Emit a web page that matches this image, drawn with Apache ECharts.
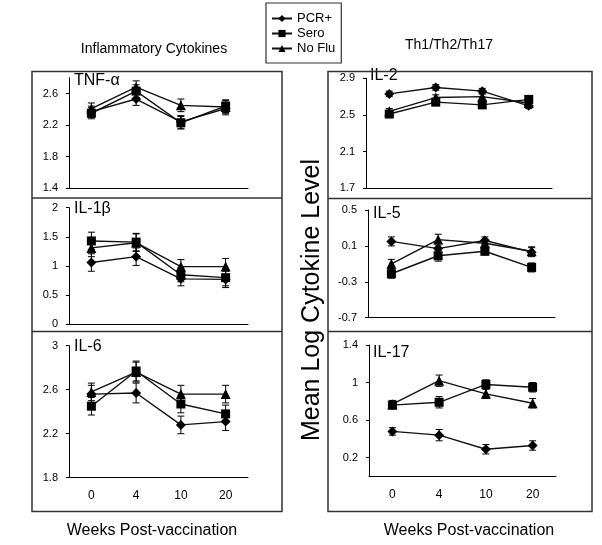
<!DOCTYPE html>
<html>
<head>
<meta charset="utf-8">
<script src="https://cdn.jsdelivr.net/npm/echarts@6/dist/echarts.min.js"></script>
<style>
    html, body { margin: 0; padding: 0; background: #fff; }
    #chart { width: 602px; height: 545px; }
</style>
</head>
<body>
<div id="chart"></div>
<script>
    // x categories (weeks post-vaccination)
    var weeks = ['0', '4', '10', '20'];
    var groups = ['PCR+', 'Sero', 'No Flu'];

    // TNF-a
    var tnfPcr = [2.37, 2.53, 2.24, 2.41];
    var tnfSero = [2.35, 2.63, 2.23, 2.44];
    var tnfNoFlu = [2.41, 2.68, 2.45, 2.43];
    var tnfErr = [0.07, 0.08, 0.08, 0.08];

    // IL-1b
    var il1Pcr = [1.06, 1.16, 0.78, 0.77];
    var il1Sero = [1.43, 1.41, 0.85, 0.80];
    var il1NoFlu = [1.31, 1.40, 0.99, 0.99];
    var il1Err = [0.15, 0.15, 0.12, 0.14];

    // IL-6
    var il6Pcr = [2.56, 2.57, 2.28, 2.31];
    var il6Sero = [2.45, 2.77, 2.47, 2.38];
    var il6NoFlu = [2.58, 2.76, 2.56, 2.56];
    var il6Err = [0.08, 0.09, 0.08, 0.08];

    // IL-2
    var il2Pcr = [2.73, 2.80, 2.76, 2.60];
    var il2Sero = [2.51, 2.64, 2.61, 2.67];
    var il2NoFlu = [2.54, 2.69, 2.70, 2.63];
    var il2Err = [0.03, 0.03, 0.03, 0.03];

    // IL-5
    var il5Pcr = [0.15, 0.07, 0.16, 0.03];
    var il5Sero = [-0.21, -0.01, 0.04, -0.14];
    var il5NoFlu = [-0.10, 0.17, 0.13, 0.04];
    var il5Err = [0.05, 0.06, 0.04, 0.05];

    // IL-17
    var il17Pcr = [0.48, 0.44, 0.29, 0.33];
    var il17Sero = [0.76, 0.79, 0.98, 0.95];
    var il17NoFlu = [0.77, 1.02, 0.88, 0.78];
    var il17Err = [0.04, 0.06, 0.05, 0.05];

    // y tick labels per panel
    var tnfTicks = [1.4, 1.8, 2.2, 2.6];
    var il1Ticks = [0, 0.5, 1, 1.5, 2];
    var il6Ticks = [1.8, 2.2, 2.6, 3];
    var il2Ticks = [1.7, 2.1, 2.5, 2.9];
    var il5Ticks = [-0.7, -0.3, 0.1, 0.5];
    var il17Ticks = [0.2, 0.6, 1, 1.4];

    var font = 'Liberation Sans, Arial, sans-serif';
    var symbols = ['diamond', 'rect', 'triangle'];
    var symbolSizes = [10, 9, 10];

    var panels = [
        {label: 'TNF-\u03b1', data: [tnfPcr, tnfSero, tnfNoFlu], err: tnfErr, ticks: tnfTicks, min: 1.4, max: 2.8,
            grid: {left: 69, top: 77.7, width: 179, height: 110.6}, lx: 74, ly: 82, bottom: false},
        {label: 'IL-1\u03b2', data: [il1Pcr, il1Sero, il1NoFlu], err: il1Err, ticks: il1Ticks, min: 0, max: 2,
            grid: {left: 69, top: 207.7, width: 179, height: 116.6}, lx: 74, ly: 210, bottom: false},
        {label: 'IL-6', data: [il6Pcr, il6Sero, il6NoFlu], err: il6Err, ticks: il6Ticks, min: 1.8, max: 3,
            grid: {left: 69, top: 345.7, width: 179, height: 132}, lx: 74, ly: 348, bottom: true},
        {label: 'IL-2', data: [il2Pcr, il2Sero, il2NoFlu], err: il2Err, ticks: il2Ticks, min: 1.7, max: 2.9,
            grid: {left: 366, top: 78.3, width: 186, height: 110}, lx: 370, ly: 77, bottom: false},
        {label: 'IL-5', data: [il5Pcr, il5Sero, il5NoFlu], err: il5Err, ticks: il5Ticks, min: -0.7, max: 0.5,
            grid: {left: 368, top: 210, width: 187, height: 107.7}, lx: 373, ly: 215, bottom: false},
        {label: 'IL-17', data: [il17Pcr, il17Sero, il17NoFlu], err: il17Err, ticks: il17Ticks, min: 0, max: 1.4,
            grid: {left: 369, top: 345, width: 187, height: 131.5}, lx: 373, ly: 354, bottom: true}
    ];

    function renderErr(params, api) {
        var x = api.value(0);
        var lo = api.coord([x, api.value(1)]);
        var hi = api.coord([x, api.value(2)]);
        var w = 3.5;
        var st = {stroke: '#000', lineWidth: 1};
        return {
            type: 'group',
            children: [
                {type: 'line', shape: {x1: lo[0], y1: lo[1], x2: hi[0], y2: hi[1]}, style: st},
                {type: 'line', shape: {x1: lo[0] - w, y1: lo[1], x2: lo[0] + w, y2: lo[1]}, style: st},
                {type: 'line', shape: {x1: hi[0] - w, y1: hi[1], x2: hi[0] + w, y2: hi[1]}, style: st}
            ]
        };
    }

    var grids = [], xAxes = [], yAxes = [], series = [], texts = [];

    panels.forEach(function (p, i) {
        grids.push(p.grid);
        xAxes.push({
            type: 'category', gridIndex: i, data: weeks, boundaryGap: true,
            axisLine: {onZero: false, lineStyle: {color: '#000', width: 1}},
            axisTick: {inside: true, length: 4, lineStyle: {color: '#000'}},
            axisLabel: {show: p.bottom, color: '#000', fontSize: 12, fontFamily: font, margin: 12},
            splitLine: {show: false}
        });
        yAxes.push({
            type: 'value', gridIndex: i, min: p.min, max: p.max,
            axisLine: {show: true, onZero: false, lineStyle: {color: '#000', width: 1}},
            axisTick: {show: true, length: 3, customValues: p.ticks, lineStyle: {color: '#000'}},
            axisLabel: {
                customValues: p.ticks, color: '#000', fontSize: 11, fontFamily: font, margin: 11,
                formatter: function (v) { return String(+(+v).toFixed(2)); }
            },
            splitLine: {show: false}
        });
        p.data.forEach(function (vals, s) {
            var errData = vals.map(function (v, k) {
                return [k, v - p.err[k], v + p.err[k]];
            });
            series.push({
                type: 'custom', name: 'err' + i + '_' + s, xAxisIndex: i, yAxisIndex: i,
                renderItem: renderErr, data: errData, encode: {x: 0, y: [1, 2]}, z: 2, silent: true
            });
            series.push({
                type: 'line', name: groups[s], xAxisIndex: i, yAxisIndex: i, data: vals,
                symbol: symbols[s], symbolSize: symbolSizes[s], showSymbol: true,
                itemStyle: {color: '#000'}, lineStyle: {color: '#111', width: 1.4}, z: 3
            });
        });
        texts.push({
            type: 'text', left: p.lx, top: p.ly - 9,
            style: {text: p.label, fontSize: 16, fontFamily: font, fill: '#000'}
        });
    });

    var boxStyle = {fill: 'none', stroke: '#333', lineWidth: 1.5};
    var graphics = [
        {type: 'rect', shape: {x: 32, y: 71.5, width: 250, height: 440}, style: boxStyle, z: 1},
        {type: 'line', shape: {x1: 32, y1: 198, x2: 282, y2: 198}, style: boxStyle, z: 1},
        {type: 'line', shape: {x1: 32, y1: 331.5, x2: 282, y2: 331.5}, style: boxStyle, z: 1},
        {type: 'rect', shape: {x: 328, y: 71.5, width: 264, height: 440}, style: boxStyle, z: 1},
        {type: 'line', shape: {x1: 328, y1: 198.5, x2: 592, y2: 198.5}, style: boxStyle, z: 1},
        {type: 'line', shape: {x1: 328, y1: 331.5, x2: 592, y2: 331.5}, style: boxStyle, z: 1},
        {type: 'text', x: 154, y: 49, style: {text: 'Inflammatory Cytokines', fontSize: 14, fontFamily: font, fill: '#000', align: 'center', verticalAlign: 'middle'}},
        {type: 'text', x: 449, y: 45, style: {text: 'Th1/Th2/Th17', fontSize: 14, fontFamily: font, fill: '#000', align: 'center', verticalAlign: 'middle'}},
        {type: 'text', x: 312, y: 300, rotation: Math.PI / 2, style: {text: 'Mean Log Cytokine Level', fontSize: 25, fontFamily: font, fill: '#000', align: 'center', verticalAlign: 'middle'}},
        {type: 'text', x: 152, y: 531, style: {text: 'Weeks Post-vaccination', fontSize: 16, fontFamily: font, fill: '#000', align: 'center', verticalAlign: 'middle'}},
        {type: 'text', x: 469, y: 531, style: {text: 'Weeks Post-vaccination', fontSize: 16, fontFamily: font, fill: '#000', align: 'center', verticalAlign: 'middle'}}
    ].concat(texts);

    var chart = echarts.init(document.getElementById('chart'), null, {renderer: 'canvas'});
    chart.setOption({
        animation: false,
        backgroundColor: '#fff',
        legend: {
            data: groups, orient: 'vertical', left: 266, top: 3,
            itemWidth: 20, itemHeight: 9, itemGap: 2, padding: [9, 6, 8, 5],
            borderColor: '#333', borderWidth: 1.2,
            textStyle: {fontSize: 13, fontFamily: font, color: '#000'}
        },
        grid: grids,
        xAxis: xAxes,
        yAxis: yAxes,
        series: series,
        graphic: graphics
    });
</script>
</body>
</html>
